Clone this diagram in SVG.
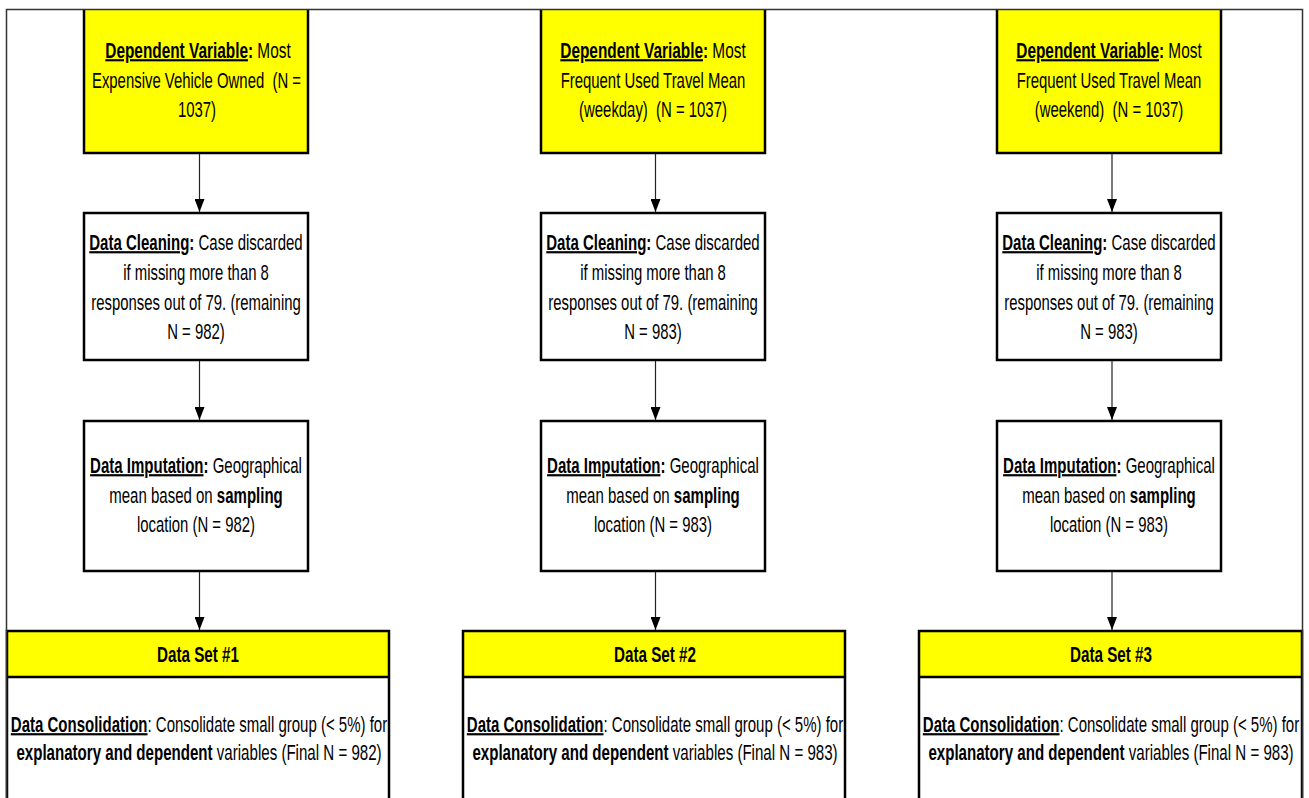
<svg xmlns="http://www.w3.org/2000/svg" width="1309" height="798" viewBox="0 0 1309 798">
<defs>
<style>
text{font-family:"Liberation Sans",Arial,sans-serif;font-size:19px;fill:#000;text-anchor:middle;white-space:pre}
.b{font-weight:bold}
.u{text-decoration:underline}
.box{fill:#fff;stroke:#000;stroke-width:2.5}
.yel{fill:#ffff00}
.edge{fill:none;stroke:#000;stroke-width:2.5}
.conn{stroke:#222;stroke-width:1.2;fill:none}
.frame{fill:none;stroke:#333;stroke-width:1.5}
</style>
<marker id="ah" markerWidth="13" markerHeight="10" refX="13" refY="5" orient="auto" markerUnits="userSpaceOnUse" viewBox="0 0 13 10">
<path d="M0,0 L13,5 L0,10 Z" fill="#000"/>
</marker>
</defs>
<rect width="1309" height="798" fill="#fff"/>

<!-- Column 1 -->
<g id="dep1">
<rect class="yel" x="84" y="10" width="224" height="143"/>
<path class="edge" d="M84,9 V153 H308 V9"/>
<text transform="translate(198,58) scale(0.81,1.15)"><tspan class="b u">Dependent Variable</tspan><tspan class="b">:</tspan> Most</text>
<text transform="translate(196.5,88) scale(0.785,1.15)">Expensive Vehicle Owned  (N =</text>
<text transform="translate(197,117) scale(0.785,1.15)">1037)</text>
</g>
<g id="clean1">
<rect class="box" x="84" y="213" width="224" height="147"/>
<text transform="translate(196,250) scale(0.79,1.15)"><tspan class="b u">Data Cleaning</tspan><tspan class="b">:</tspan> Case discarded</text>
<text transform="translate(196,280) scale(0.785,1.15)">if missing more than 8</text>
<text transform="translate(196,310) scale(0.785,1.15)">responses out of 79. (remaining</text>
<text transform="translate(196,339) scale(0.785,1.15)">N = 982)</text>
</g>
<g id="imp1">
<rect class="box" x="84" y="421" width="224" height="150"/>
<text transform="translate(196,473) scale(0.79,1.15)"><tspan class="b u">Data Imputation</tspan><tspan class="b">:</tspan> Geographical</text>
<text transform="translate(196,503) scale(0.79,1.15)">mean based on <tspan class="b">sampling</tspan></text>
<text transform="translate(196,532) scale(0.785,1.15)">location (N = 982)</text>
</g>
<g id="set1">
<rect class="yel" x="7" y="631" width="382" height="46"/>
<path class="edge" d="M7,631 H389 V677 H7 Z M7,677 V800 M389,677 V800"/>
<text class="b" transform="translate(198,662) scale(0.8,1.2)">Data Set #1</text>
<text transform="translate(199,732) scale(0.79,1.15)"><tspan class="b u">Data Consolidation</tspan>: Consolidate small group (&lt; 5%) for</text>
<text transform="translate(199,760) scale(0.795,1.15)"><tspan class="b">explanatory and dependent</tspan> variables (Final N = 982)</text>
</g>

<!-- Column 2 -->
<g id="dep2">
<rect class="yel" x="541" y="10" width="224" height="143"/>
<path class="edge" d="M541,9 V153 H765 V9"/>
<text transform="translate(653,58) scale(0.81,1.15)"><tspan class="b u">Dependent Variable</tspan><tspan class="b">:</tspan> Most</text>
<text transform="translate(653,88) scale(0.785,1.15)">Frequent Used Travel Mean</text>
<text transform="translate(653,117) scale(0.785,1.15)">(weekday)  (N = 1037)</text>
</g>
<g id="clean2">
<rect class="box" x="541" y="213" width="224" height="147"/>
<text transform="translate(653,250) scale(0.79,1.15)"><tspan class="b u">Data Cleaning</tspan><tspan class="b">:</tspan> Case discarded</text>
<text transform="translate(653,280) scale(0.785,1.15)">if missing more than 8</text>
<text transform="translate(653,310) scale(0.785,1.15)">responses out of 79. (remaining</text>
<text transform="translate(653,339) scale(0.785,1.15)">N = 983)</text>
</g>
<g id="imp2">
<rect class="box" x="541" y="421" width="224" height="150"/>
<text transform="translate(653,473) scale(0.79,1.15)"><tspan class="b u">Data Imputation</tspan><tspan class="b">:</tspan> Geographical</text>
<text transform="translate(653,503) scale(0.79,1.15)">mean based on <tspan class="b">sampling</tspan></text>
<text transform="translate(653,532) scale(0.785,1.15)">location (N = 983)</text>
</g>
<g id="set2">
<rect class="yel" x="463" y="631" width="382" height="46"/>
<path class="edge" d="M463,631 H845 V677 H463 Z M463,677 V800 M845,677 V800"/>
<text class="b" transform="translate(655,662) scale(0.8,1.2)">Data Set #2</text>
<text transform="translate(655,732) scale(0.79,1.15)"><tspan class="b u">Data Consolidation</tspan>: Consolidate small group (&lt; 5%) for</text>
<text transform="translate(655,760) scale(0.795,1.15)"><tspan class="b">explanatory and dependent</tspan> variables (Final N = 983)</text>
</g>

<!-- Column 3 -->
<g id="dep3">
<rect class="yel" x="997" y="10" width="224" height="143"/>
<path class="edge" d="M997,9 V153 H1221 V9"/>
<text transform="translate(1109,58) scale(0.81,1.15)"><tspan class="b u">Dependent Variable</tspan><tspan class="b">:</tspan> Most</text>
<text transform="translate(1109,88) scale(0.785,1.15)">Frequent Used Travel Mean</text>
<text transform="translate(1109,117) scale(0.785,1.15)">(weekend)  (N = 1037)</text>
</g>
<g id="clean3">
<rect class="box" x="997" y="213" width="224" height="147"/>
<text transform="translate(1109,250) scale(0.79,1.15)"><tspan class="b u">Data Cleaning</tspan><tspan class="b">:</tspan> Case discarded</text>
<text transform="translate(1109,280) scale(0.785,1.15)">if missing more than 8</text>
<text transform="translate(1109,310) scale(0.785,1.15)">responses out of 79. (remaining</text>
<text transform="translate(1109,339) scale(0.785,1.15)">N = 983)</text>
</g>
<g id="imp3">
<rect class="box" x="997" y="421" width="224" height="150"/>
<text transform="translate(1109,473) scale(0.79,1.15)"><tspan class="b u">Data Imputation</tspan><tspan class="b">:</tspan> Geographical</text>
<text transform="translate(1109,503) scale(0.79,1.15)">mean based on <tspan class="b">sampling</tspan></text>
<text transform="translate(1109,532) scale(0.785,1.15)">location (N = 983)</text>
</g>
<g id="set3">
<rect class="yel" x="919" y="631" width="383" height="46"/>
<path class="edge" d="M919,631 H1302 V677 H919 Z M919,677 V800 M1302,677 V800"/>
<text class="b" transform="translate(1111,662) scale(0.8,1.2)">Data Set #3</text>
<text transform="translate(1111,732) scale(0.79,1.15)"><tspan class="b u">Data Consolidation</tspan>: Consolidate small group (&lt; 5%) for</text>
<text transform="translate(1111,760) scale(0.795,1.15)"><tspan class="b">explanatory and dependent</tspan> variables (Final N = 983)</text>
</g>

<g id="connectors">
<line class="conn" x1="199.5" y1="154" x2="199.5" y2="212" marker-end="url(#ah)"/>
<line class="conn" x1="199.5" y1="361" x2="199.5" y2="420" marker-end="url(#ah)"/>
<line class="conn" x1="199.5" y1="572" x2="199.5" y2="630" marker-end="url(#ah)"/>
<line class="conn" x1="655.5" y1="154" x2="655.5" y2="212" marker-end="url(#ah)"/>
<line class="conn" x1="655.5" y1="361" x2="655.5" y2="420" marker-end="url(#ah)"/>
<line class="conn" x1="655.5" y1="572" x2="655.5" y2="630" marker-end="url(#ah)"/>
<line class="conn" x1="1112" y1="154" x2="1112" y2="212" marker-end="url(#ah)"/>
<line class="conn" x1="1112" y1="361" x2="1112" y2="420" marker-end="url(#ah)"/>
<line class="conn" x1="1112" y1="572" x2="1112" y2="630" marker-end="url(#ah)"/>
</g>

<rect class="frame" x="6.5" y="9.5" width="1296" height="800"/>
</svg>
